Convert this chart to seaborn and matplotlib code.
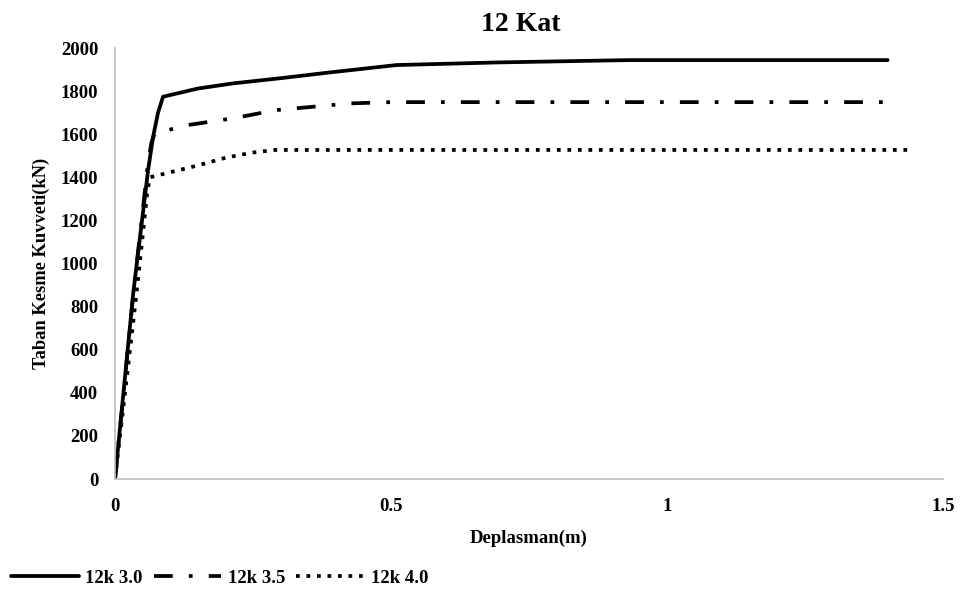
import pandas as pd
import matplotlib.pyplot as plt
import seaborn as sns

# Datos (Deplasman en m, Taban kesme kuvveti en kN)
x_30 = [0, 0.033, 0.060, 0.069, 0.078, 0.087, 0.15, 0.214, 0.30, 0.39, 0.51, 0.69, 0.93, 1.40]
y_30 = [0, 862, 1434, 1588, 1700, 1774, 1812, 1836, 1860, 1887, 1921, 1933, 1944, 1944]

x_35 = [0, 0.033, 0.060, 0.066, 0.072, 0.133, 0.214, 0.292, 0.425, 0.50, 1.418]
y_35 = [0, 855, 1470, 1560, 1604, 1643, 1674, 1712, 1743, 1749, 1749]

x_40 = [0, 0.039, 0.058, 0.063, 0.093, 0.15, 0.202, 0.25, 0.29, 1.445]
y_40 = [0, 862, 1320, 1400, 1419, 1455, 1492, 1515, 1527, 1527]

series = ['12k 3.0', '12k 3.5', '12k 4.0']
titulo = '12 Kat'
xlabel = 'Deplasman(m)'
ylabel = 'Taban Kesme Kuvveti(kN)'

df = pd.concat([
    pd.DataFrame({'x': x_30, 'y': y_30, 'serie': series[0]}),
    pd.DataFrame({'x': x_35, 'y': y_35, 'serie': series[1]}),
    pd.DataFrame({'x': x_40, 'y': y_40, 'serie': series[2]}),
], ignore_index=True)

sns.set_style('white')
plt.rcParams['font.family'] = ['Liberation Serif', 'DejaVu Serif']
plt.rcParams['font.weight'] = 'bold'
plt.rcParams['text.color'] = 'black'
plt.rcParams['axes.labelcolor'] = 'black'
plt.rcParams['xtick.color'] = 'black'
plt.rcParams['ytick.color'] = 'black'

fig = plt.figure(figsize=(9.64, 5.93), dpi=100)
ax = fig.add_axes([0.1193, 0.1922, 0.8587, 0.7268])

estilos = {series[0]: '', series[1]: (5, 4.3, 1, 4.3), series[2]: (1, 1.8)}
sns.lineplot(data=df, x='x', y='y', hue='serie', style='serie', sort=False,
             palette=['black'] * 3, dashes=estilos, linewidth=2.7,
             estimator=None, ax=ax, legend=False)

ax.set_xlim(0, 1.5)
ax.set_ylim(0, 2000)
ax.set_xticks([0, 0.5, 1, 1.5])
ax.set_xticklabels(['0', '0.5', '1', '1.5'])
ax.set_yticks(range(0, 2001, 200))
ax.tick_params(axis='y', length=0, labelsize=13.5, pad=12)
ax.tick_params(axis='x', length=0, labelsize=13.5, pad=14)
for lbl in ax.get_xticklabels() + ax.get_yticklabels():
    lbl.set_fontweight('bold')

sns.despine(ax=ax)
for s in ['left', 'bottom']:
    ax.spines[s].set_color('#bfbfbf')
    ax.spines[s].set_linewidth(1.2)

ax.set_title(titulo, fontsize=20, fontweight='bold', pad=12, x=0.49)
ax.set_xlabel(xlabel, fontsize=13.5, fontweight='bold', labelpad=10)
ax.set_ylabel(ylabel, fontsize=13.3, fontweight='bold', labelpad=8)

lineas = ax.get_lines()[:3]
fig.legend(lineas, series, loc='lower left', bbox_to_anchor=(-0.006, -0.018), ncol=3,
           frameon=False, handlelength=3.6, handletextpad=0.35,
           columnspacing=0.6, prop={'weight': 'bold', 'size': 13.5})

fig.savefig('out.png', dpi=100)
